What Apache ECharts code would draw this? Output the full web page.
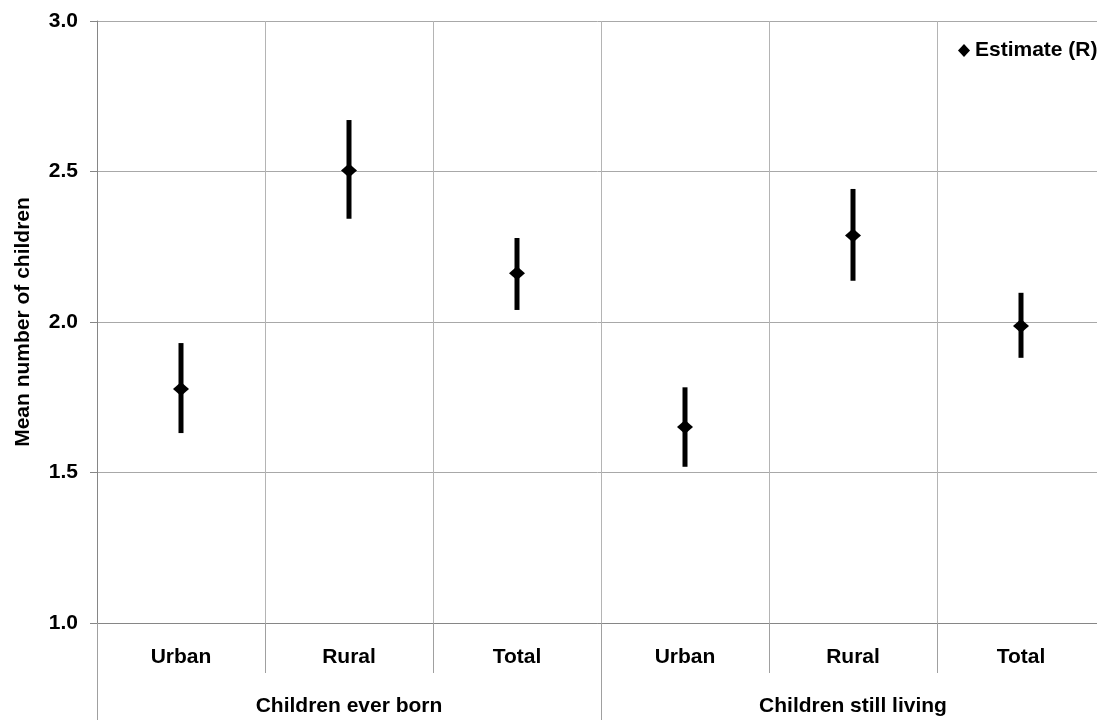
<!DOCTYPE html>
<html>
<head>
<meta charset="utf-8">
<script src="https://cdn.jsdelivr.net/npm/echarts@6/dist/echarts.min.js"></script>
<style>html,body{margin:0;padding:0;background:#fff}#c{width:1097px;height:720px}</style>
</head>
<body>
<div id="c"></div>
<script>
const categories = ['Urban', 'Rural', 'Total', 'Urban', 'Rural', 'Total'];
const groups = ['Children ever born', 'Children still living'];
const estimate = [1.777, 2.503, 2.162, 1.651, 2.287, 1.987];
const lower = [1.631, 2.343, 2.040, 1.519, 2.137, 1.881];
const upper = [1.930, 2.671, 2.279, 1.783, 2.442, 2.097];
const yTicks = { min: 1, max: 3, interval: 0.5 };

const FONT = '"Liberation Sans", Arial, sans-serif';
const chart = echarts.init(document.getElementById('c'), null, { renderer: 'canvas' });

const errData = categories.map((c, i) => [i, lower[i], upper[i]]);

chart.setOption({
  animation: false,
  textStyle: { fontFamily: FONT },
  grid: { left: 97, top: 21, width: 1008, height: 602, containLabel: false, outerBoundsMode: 'none' },
  legend: {
    data: [{ name: 'Estimate (R)', icon: 'diamond' }],
    left: 958, top: 40, padding: 0,
    itemWidth: 12, itemHeight: 13, itemGap: 4,
    textStyle: { fontFamily: FONT, fontWeight: 'bold', fontSize: 21, color: '#000' }
  },
  xAxis: [
    {
      type: 'category', data: categories, position: 'bottom',
      boundaryGap: true,
      axisLine: { show: true, lineStyle: { color: '#868686', width: 1 } },
      axisTick: { show: true, length: 50, lineStyle: { color: '#a0a0a0' } },
      axisLabel: { margin: 24, fontFamily: FONT, fontWeight: 'bold', fontSize: 21, color: '#000' },
      splitLine: { show: true, lineStyle: { color: '#b4b4b4', width: 1 } }
    },
    {
      type: 'category', data: groups, position: 'bottom', gridIndex: 0,
      boundaryGap: true,
      axisLine: { show: false },
      axisTick: { show: true, length: 97, lineStyle: { color: '#a0a0a0' } },
      axisLabel: { margin: 73, fontFamily: FONT, fontWeight: 'bold', fontSize: 21, color: '#000' },
      splitLine: { show: false }
    }
  ],
  yAxis: {
    type: 'value', min: yTicks.min, max: yTicks.max, interval: yTicks.interval,
    name: 'Mean number of children', nameLocation: 'middle', nameGap: 63, nameRotate: 90,
    nameTextStyle: { fontFamily: FONT, fontWeight: 'bold', fontSize: 21, color: '#000' },
    axisLine: { show: true, lineStyle: { color: '#868686', width: 1 } },
    axisTick: { show: true, length: 7, lineStyle: { color: '#868686' } },
    axisLabel: { margin: 19, fontFamily: FONT, fontWeight: 'bold', fontSize: 21, color: '#000',
      formatter: v => v.toFixed(1) },
    splitLine: { show: true, lineStyle: { color: '#a8a8a8', width: 1 } }
  },
  series: [
    {
      name: 'CI', type: 'custom', xAxisIndex: 0,
      renderItem: function (params, api) {
        const x = api.value(0);
        const lo = api.coord([x, api.value(1)]);
        const hi = api.coord([x, api.value(2)]);
        const w = 5;
        return {
          type: 'rect',
          shape: { x: lo[0] - w / 2, y: hi[1], width: w, height: lo[1] - hi[1] },
          style: { fill: '#000' }
        };
      },
      encode: { x: 0, y: [1, 2] },
      data: errData,
      z: 2
    },
    {
      name: 'Estimate (R)', type: 'scatter', xAxisIndex: 0,
      symbol: 'diamond', symbolSize: [16, 14],
      itemStyle: { color: '#000', opacity: 1 },
      data: estimate,
      z: 3
    }
  ]
});
</script>
</body>
</html>
